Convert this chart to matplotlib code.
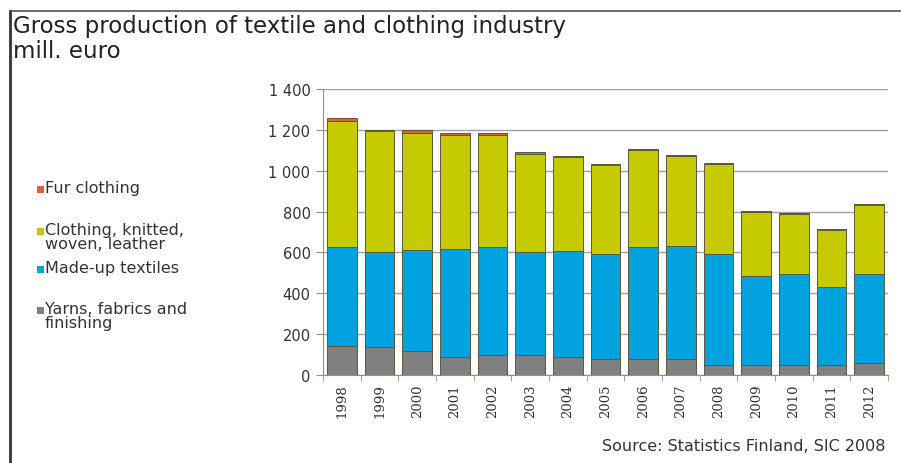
import matplotlib.pyplot as plt
import numpy as np
from matplotlib.patches import Rectangle
from matplotlib.lines import Line2D
from matplotlib.ticker import FuncFormatter

years = ['1998', '1999', '2000', '2001', '2002', '2003', '2004', '2005',
         '2006', '2007', '2008', '2009', '2010', '2011', '2012']
yarns = [140, 135, 118, 87, 99, 99, 87, 77, 80, 80, 49, 49, 49, 49, 58]
madeup = [485, 465, 495, 528, 526, 501, 518, 515, 545, 553, 542, 436, 444, 383, 437]
clothing = [620, 592, 572, 560, 550, 484, 462, 436, 475, 438, 443, 312, 294, 278, 338]
fur = [15, 8, 15, 8, 8, 6, 5, 6, 6, 5, 5, 5, 5, 5, 5]

series = [('Yarns, fabrics and\nfinishing', yarns, '#808080'),
          ('Made-up textiles', madeup, '#00A3E0'),
          ('Clothing, knitted,\nwoven, leather', clothing, '#C6CA00'),
          ('Fur clothing', fur, '#D9643C')]

fig = plt.figure(figsize=(9.01, 4.64), dpi=100)
ax = fig.add_axes([323/901, 1-376/464, 565/901, 286/464])

x = np.arange(len(years))
bottom = np.zeros(len(years))
for name, vals, col in series:
    ax.bar(x, vals, bottom=bottom, width=0.78, color=col,
           edgecolor='#5a5a3a', linewidth=0.7, zorder=3)
    bottom += np.array(vals)

ax.set_xlim(-0.5, len(years) - 0.5)
ax.set_ylim(0, 1400)
ax.set_yticks(range(0, 1401, 200))
ax.yaxis.set_major_formatter(FuncFormatter(lambda v, p: f'{int(v):,}'.replace(',', ' ')))
ax.grid(axis='y', color='#a0a0a0', linewidth=1, zorder=0)
for s in ['top', 'right']:
    ax.spines[s].set_visible(False)
ax.spines['left'].set_color('#909090')
ax.spines['bottom'].set_color('#909090')
ax.tick_params(axis='y', length=5, color='#909090', labelsize=10.5, labelcolor='#333333', pad=4)
ax.set_xticks(x)
ax.set_xticklabels(years, rotation=90, fontsize=9.5, family='serif', color='#333333')
ax.tick_params(axis='x', length=0, pad=6)
ax.set_xticks(np.arange(-0.5, len(years), 1), minor=True)
ax.tick_params(axis='x', which='minor', length=4, color='#909090')

fig.text(0.014, 0.967, 'Gross production of textile and clothing industry',
         fontsize=16.5, color='#222222', va='top')
fig.text(0.014, 0.914, 'mill. euro', fontsize=16.5, color='#222222', va='top')

# legend on the left, marker aligned to first line
leg_y = [190, 232, 270, 311]
for (name, vals, col), yy in zip(series[::-1], leg_y):
    fig.patches.append(Rectangle((37/901, 1-(yy+4)/464), 7/901, 7/464,
                                 transform=fig.transFigure, facecolor=col,
                                 edgecolor='none'))
    fig.text(45/901, 1-(yy-9)/464, name, fontsize=11.5, color='#333333',
             va='top', linespacing=0.95)

fig.text(885/901, 1-447/464, 'Source: Statistics Finland, SIC 2008',
         fontsize=11.5, color='#333333', ha='right', va='center')

# frame
fig.add_artist(Line2D([10/901, 10/901], [0, 1-12/464], color='#333333', lw=2,
                      transform=fig.transFigure))
fig.add_artist(Line2D([10/901, 1], [1-12/464, 1-12/464], color='#555555', lw=1.2,
                      transform=fig.transFigure))

fig.savefig('out.png', dpi=100)
